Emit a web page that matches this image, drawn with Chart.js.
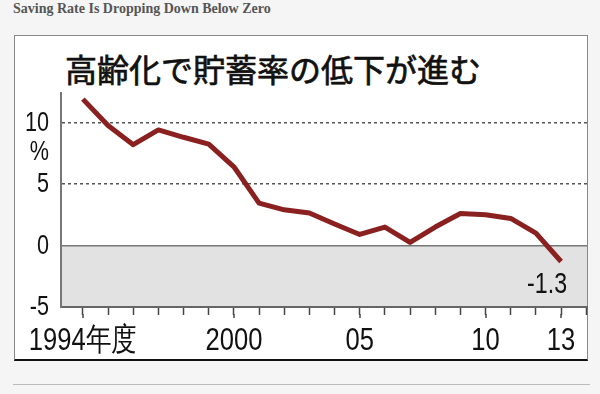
<!DOCTYPE html>
<html>

<head>
    <title>
        Saving Rate
    </title>
    <style>
        body { margin: 0; background: #f5f5f5; width: 600px; height: 394px; overflow: hidden; position: relative; }
        #head { position: absolute; left: 13px; top: 1px; font: bold 14px "Liberation Serif", "Times New Roman", serif; color: #555; }
        #box { position: absolute; left: 14px; top: 35px; width: 572px; height: 323px; background: #fff; border: 1px solid #888; border-bottom: 2px solid #111; }
        #jtitle { position: absolute; left: 65px; top: 45px; font: 32px "Noto Sans CJK JP", sans-serif; color: #111; -webkit-text-stroke: 0.7px #111; white-space: nowrap; }
        #rule { position: absolute; left: 13px; top: 384px; width: 577px; height: 1px; background: #bbb; }
        #myChart { position: absolute; left: 0; top: 0; }
    </style>
</head>

<body>
    <div id="head">Saving Rate Is Dropping Down Below Zero</div>
    <div id="box"></div>
    <div id="jtitle">高齢化で貯蓄率の低下が進む</div>
    <div id="rule"></div>
    <canvas id="myChart" width="600" height="394"></canvas>
    <script src="https://cdn.jsdelivr.net/npm/chart.js@4.4.1/dist/chart.umd.min.js"></script>
    <script>
    // household saving rate, fiscal years
    var years = [1994, 1995, 1996, 1997, 1998, 1999, 2000, 2001, 2002, 2003, 2004, 2005, 2006, 2007, 2008, 2009, 2010, 2011, 2012, 2013];
    var rates = [11.9, 9.75, 8.2, 9.4, 8.8, 8.25, 6.4, 3.45, 2.9, 2.65, 1.75, 0.9, 1.5, 0.25, 1.5, 2.6, 2.5, 2.2, 1.0, -1.3];
    var xLabels = {1994: '1994年度', 2000: '2000', 2005: '05', 2010: '10', 2013: '13'};
    var yTicks = [-5, 0, 5, 10];
    var unitLabel = '%';
    var unitPos = 7.65;
    var lastLabel = '-1.3';

    var fam = '"Liberation Sans", Arial, sans-serif';
    var squeeze = 0.8; // the original uses a narrow face

    var points = [];
    for (var i = 0; i < years.length; i++) {
        points.push({x: years[i], y: rates[i]});
    }

    function narrowText(c, txt, x, y, align, base, size) {
        c.save();
        c.translate(x, y);
        c.scale(squeeze, 1);
        c.font = size + 'px ' + fam;
        c.textAlign = align;
        c.textBaseline = base;
        c.fillStyle = '#111';
        c.fillText(txt, 0, 0);
        c.restore();
    }

    var negBand = {
        id: 'negBand',
        beforeDraw: function(chart) {
            var c = chart.ctx, a = chart.chartArea, y = chart.scales.y;
            var y0 = y.getPixelForValue(0);
            c.save();
            c.fillStyle = '#e2e2e2';
            c.fillRect(a.left, y0, a.right - a.left, a.bottom - y0);
            c.restore();
        }
    };

    var extras = {
        id: 'extras',
        afterDraw: function(chart) {
            var c = chart.ctx, x = chart.scales.x, y = chart.scales.y, a = chart.chartArea;
            c.save();
            // longer tick marks for labelled years
            c.strokeStyle = '#444';
            c.lineWidth = 1.5;
            Object.keys(xLabels).forEach(function(k) {
                var px = Math.round(x.getPixelForValue(+k));
                c.beginPath();
                c.moveTo(px, a.bottom + 7);
                c.lineTo(px, a.bottom + 11);
                c.stroke();
            });
            c.restore();
            // axis labels in a condensed look
            x.ticks.forEach(function(t) {
                if (xLabels[t.value]) {
                    narrowText(c, xLabels[t.value], x.getPixelForValue(t.value), a.bottom + 43, 'center', 'alphabetic', 32);
                }
            });
            y.ticks.forEach(function(t) {
                var txt = t.value === unitPos ? unitLabel : String(t.value);
                narrowText(c, txt, a.left - 12, y.getPixelForValue(t.value) + 1, 'right', 'middle', 27);
            });
            // end value label
            var meta = chart.getDatasetMeta(0);
            var p = meta.data[meta.data.length - 1];
            narrowText(c, lastLabel, p.x + 6, p.y + 32, 'right', 'alphabetic', 29);
        }
    };

    var ctx = document.getElementById('myChart').getContext('2d');
    var chart = new Chart(ctx, {
        type: 'line',
        data: {
            datasets: [{
                data: points,
                borderColor: '#8b2020',
                borderWidth: 5,
                borderJoinStyle: 'round',
                pointRadius: 0,
                tension: 0
            }]
        },
        plugins: [negBand, extras],
        options: {
            responsive: false,
            animation: false,
            events: [],
            layout: { padding: { top: 93, right: 13, left: 0, bottom: 0 } },
            plugins: { legend: { display: false }, title: { display: false }, tooltip: { enabled: false } },
            scales: {
                x: {
                    type: 'linear',
                    min: 1993.13,
                    max: 2014.03,
                    afterFit: function(s) { s.height = 87; },
                    grid: { drawOnChartArea: false, tickLength: 8, tickColor: '#444', tickWidth: 1.5 },
                    border: { color: '#666', width: 2 },
                    ticks: {
                        display: false,
                        stepSize: 1,
                        includeBounds: false,
                        autoSkip: false,
                        maxRotation: 0
                    }
                },
                y: {
                    min: -5,
                    max: 12.4,
                    afterFit: function(s) { s.width = 61; },
                    afterBuildTicks: function(s) {
                        s.ticks = yTicks.map(function(v) { return {value: v}; });
                        s.ticks.push({value: unitPos});
                    },
                    grid: {
                        drawTicks: false,
                        lineWidth: 1.5,
                        color: function(c) {
                            if (!c.tick) return 'transparent';
                            if (c.tick.value === 0) return '#777';
                            if (c.tick.value === 5 || c.tick.value === 10) return '#555';
                            return 'transparent';
                        }
                    },
                    border: {
                        color: '#777',
                        width: 2,
                        dash: function(c) {
                            return (c.tick && (c.tick.value === 5 || c.tick.value === 10)) ? [3, 3] : [];
                        }
                    },
                    ticks: { display: false }
                }
            }
        }
    });
    </script>
</body>

</html>
